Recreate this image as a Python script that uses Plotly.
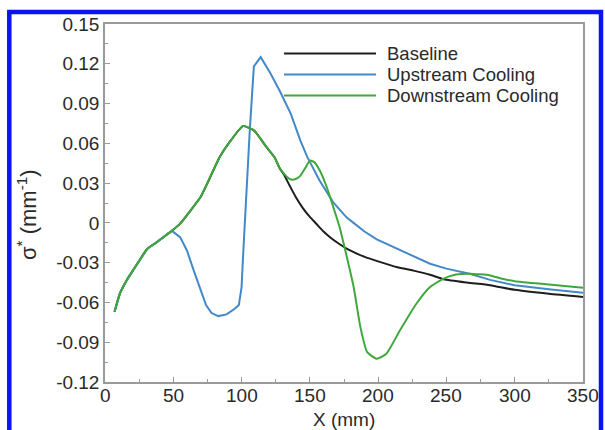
import plotly.graph_objects as go

# ---------------- data ----------------
x_common = [7, 11, 16, 21, 26, 31, 38, 45, 49]
y_common = [-0.067, -0.053, -0.043, -0.035, -0.027, -0.0195, -0.0145, -0.009, -0.006]

green_x = x_common + [55, 62, 70, 75, 84, 92, 101, 109, 118, 124, 128, 131, 134, 137, 140, 143,
                      147, 150, 153, 157, 162, 165, 169, 172, 176, 182, 187, 192, 199, 206, 216,
                      228, 238, 248, 257, 267, 282, 290, 300, 325, 350]
green_y = y_common + [-0.0006, 0.0085, 0.0195, 0.030, 0.0497, 0.062, 0.073, 0.0698, 0.0575, 0.0497,
                      0.041, 0.0371, 0.034, 0.0326, 0.0333, 0.0355, 0.042, 0.047, 0.046, 0.040,
                      0.028, 0.019, 0.006, -0.004, -0.021, -0.048, -0.0786, -0.0975, -0.1025,
                      -0.0987, -0.081, -0.061, -0.0484, -0.042, -0.039, -0.0383, -0.0396, -0.042,
                      -0.044, -0.0465, -0.049]

blue_x = x_common + [55, 60, 65, 70, 74, 78, 83, 89, 95, 98, 100, 101.3, 102, 104, 106, 109, 114,
                     121, 128, 136, 143, 148, 150, 157, 167, 177, 182, 190, 199, 215, 238, 250,
                     267, 282, 300, 325, 350]
blue_y = y_common + [-0.0107, -0.0208, -0.036, -0.0509, -0.062, -0.068, -0.0703, -0.069, -0.0648,
                     -0.062, -0.0484, -0.0208, -0.0057, 0.030, 0.0698, 0.118, 0.125, 0.113, 0.0995,
                     0.0824, 0.0623, 0.050, 0.0459, 0.0321, 0.0157, 0.004, 0.0, -0.0065,
                     -0.0125, -0.020, -0.0308, -0.0345, -0.0383, -0.043, -0.047, -0.050, -0.0527]

black_x = x_common + [55, 62, 70, 75, 84, 92, 101, 109, 118, 124, 128, 131, 135, 140, 145, 150,
                      155, 160, 165, 170, 177, 184, 191, 200, 214, 226, 238, 248, 265, 282, 300,
                      325, 350]
black_y = y_common + [-0.0006, 0.0085, 0.0195, 0.030, 0.0497, 0.062, 0.073, 0.0698, 0.0575, 0.0497,
                      0.041, 0.0365, 0.0285, 0.019, 0.011, 0.0045, -0.001, -0.0065, -0.011,
                      -0.0148, -0.0195, -0.023, -0.026, -0.029, -0.0334, -0.036, -0.0391, -0.0425,
                      -0.045, -0.047, -0.0505, -0.0535, -0.0558]

series_names = ["Baseline", "Upstream Cooling", "Downstream Cooling"]
x_ticks = [0, 50, 100, 150, 200, 250, 300, 350]
x_ticktext = ["0", "50", "100", "150", "200", "250", "300", "350"]
y_ticks = [-0.12, -0.09, -0.06, -0.03, 0, 0.03, 0.06, 0.09, 0.12, 0.15]
y_ticktext = ["-0.12", "-0.09", "-0.06", "-0.03", "0", "0.03", "0.06", "0.09", "0.12", "0.15"]

# ---------------- layout geometry ----------------
W, H = 605, 430
L, R, T, B = 105, 22, 24, 48
pw, ph = W - L - R, H - T - B


def px(xp):
    return (xp - L) / pw


def py(yp):
    return (H - B - yp) / ph


COL_BLACK = "#1e1e1e"
COL_BLUE = "#4389c9"
COL_GREEN = "#3fa83c"
FONT = "Liberation Sans, Arial, sans-serif"
TXT = "#2a2a2a"

fig = go.Figure()
fig.add_trace(go.Scatter(x=black_x, y=black_y, mode="lines", name=series_names[0],
                         line=dict(color=COL_BLACK, width=2, shape="spline", smoothing=0.5)))
fig.add_trace(go.Scatter(x=blue_x, y=blue_y, mode="lines", name=series_names[1],
                         line=dict(color=COL_BLUE, width=2)))
fig.add_trace(go.Scatter(x=green_x, y=green_y, mode="lines", name=series_names[2],
                         line=dict(color=COL_GREEN, width=2, shape="spline", smoothing=0.5)))

axis_common = dict(showgrid=False, zeroline=False, showline=True, linecolor="#9a9a9a",
                   linewidth=1.5, mirror=True, ticks="inside", ticklen=5, tickcolor="#9a9a9a",
                   tickwidth=1, tickfont=dict(family=FONT, size=19, color=TXT))

fig.update_layout(
    width=W, height=H,
    margin=dict(l=L, r=R, t=T, b=B),
    paper_bgcolor="white", plot_bgcolor="white",
    showlegend=False,
    xaxis=dict(range=[0, 350], tickvals=x_ticks, showticklabels=False,
               minor=dict(ticks="inside", ticklen=3, dtick=25, tickcolor="#9a9a9a"),
               **axis_common),
    yaxis=dict(range=[-0.12, 0.15], tickvals=y_ticks, ticktext=y_ticktext, ticklabelstandoff=0,
               minor=dict(ticks="inside", ticklen=3, dtick=0.015, tick0=0, tickcolor="#9a9a9a"),
               **axis_common),
)

annotations = [
    dict(text="X (mm)", x=0.5, y=py(419), xref="paper", yref="paper", showarrow=False,
         xanchor="center", yanchor="middle", font=dict(family=FONT, size=19, color=TXT)),
    dict(text="σ<sup>*</sup> (mm<sup>-1</sup>)", x=px(27), y=py(215), xref="paper", yref="paper",
         showarrow=False, textangle=-90, xanchor="center", yanchor="middle",
         font=dict(family=FONT, size=22, color=TXT)),
]
# x tick labels placed just under the axis (as in the reference)
for tv, tt in zip(x_ticks, x_ticktext):
    annotations.append(dict(text=tt, x=tv, y=py(395), xref="x", yref="paper", showarrow=False,
                            xanchor="center", yanchor="middle",
                            font=dict(family=FONT, size=19, color=TXT)))

shapes = []
legend_rows = [53.5, 74.5, 95.5]
colors = [COL_BLACK, COL_BLUE, COL_GREEN]
for name, col, yr in zip(series_names, colors, legend_rows):
    shapes.append(dict(type="line", xref="paper", yref="paper", x0=px(284), x1=px(376),
                       y0=py(yr), y1=py(yr), line=dict(color=col, width=2)))
    annotations.append(dict(text=name, x=px(385), y=py(yr), xref="paper", yref="paper",
                            showarrow=False, xanchor="left", yanchor="middle",
                            font=dict(family=FONT, size=18.5, color=TXT)))

# blue outer frame of the picture
shapes.append(dict(type="rect", xref="paper", yref="paper", x0=px(9.3), x1=px(601), y0=py(445),
                   y1=py(12), line=dict(color="#0a14f0", width=4.5), fillcolor="rgba(0,0,0,0)",
                   layer="above"))

fig.update_layout(annotations=annotations, shapes=shapes)
fig.write_html("out.html")
